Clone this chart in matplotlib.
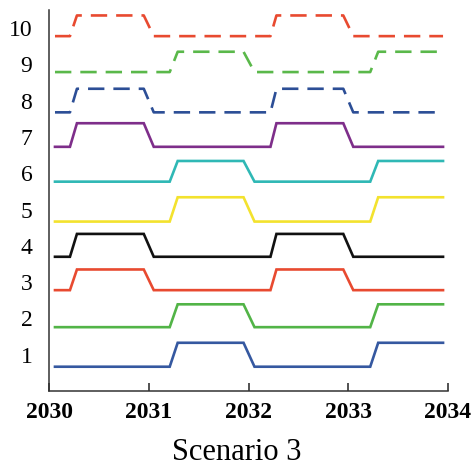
import matplotlib
matplotlib.use("Agg")
import matplotlib.pyplot as plt
import numpy as np

# Switching schedules (fraction of the year at each breakpoint)
years_a = [2030.06, 2030.21, 2030.28, 2030.95, 2031.05, 2032.22, 2032.28, 2032.95, 2033.05, 2033.95]
state_a = [0, 0, 1, 1, 0, 0, 1, 1, 0, 0]
years_b = [2030.06, 2031.21, 2031.29, 2031.95, 2032.06, 2033.22, 2033.30, 2033.95]
state_b = [0, 0, 1, 1, 0, 0, 1, 1]

# Unit labels, schedule group, off / on levels, colours and styles
units = [1, 2, 3, 4, 5, 6, 7, 8, 9, 10]
groups = ["b", "b", "a", "a", "b", "b", "a", "a", "b", "a"]
low_levels = [0.67, 1.76, 2.78, 3.70, 4.67, 5.77, 6.73, 7.68, 8.79, 9.78]
high_levels = [1.33, 2.39, 3.35, 4.33, 5.34, 6.34, 7.38, 8.33, 9.35, 10.35]
colors = ["#3558a0", "#52b447", "#e84a30", "#111111", "#f3e22e",
          "#2fb8b5", "#7e2e8a", "#2c4e96", "#5ab84a", "#e84a30"]
dashed = [False, False, False, False, False, False, False, True, True, True]

x_ticks = [2030, 2031, 2032, 2033, 2034]
title = "Scenario 3"

serif = "Liberation Serif"

fig = plt.figure(figsize=(4.73, 4.70), dpi=100)
ax = fig.add_axes([0.1036, 0.168, 0.8436, 0.8107])

for u, g, lo, hi, c, d in zip(units, groups, low_levels, high_levels, colors, dashed):
    xs = years_a if g == "a" else years_b
    st = np.array(state_a if g == "a" else state_b)
    ys = lo + st * (hi - lo)
    ls = (0, (6.2, 3.4)) if d else "-"
    ax.plot(xs, ys, color=c, lw=1.9, linestyle=ls, solid_joinstyle="miter")

ax.set_xlim(2030, 2034)
ax.set_ylim(0, 10.5)
ax.set_xticks(x_ticks)
ax.set_xticklabels([str(t) for t in x_ticks], fontfamily=serif,
                   fontweight="bold", fontsize=17)
ax.set_yticks(units)
ax.set_yticklabels([str(u) for u in units], fontfamily=serif, fontsize=17)

ax.tick_params(axis="x", direction="in", length=5.5, width=1.1,
               color="#222222", pad=8)
ax.tick_params(axis="y", length=0, pad=12)

for s in ["top", "right"]:
    ax.spines[s].set_visible(False)
for s in ["left", "bottom"]:
    ax.spines[s].set_linewidth(1.1)
    ax.spines[s].set_color("#333333")

fig.text(237 / 473, 1 - 452 / 470, title, fontfamily=serif, fontsize=22,
         ha="center", va="center")

fig.savefig("out.png", dpi=100)
